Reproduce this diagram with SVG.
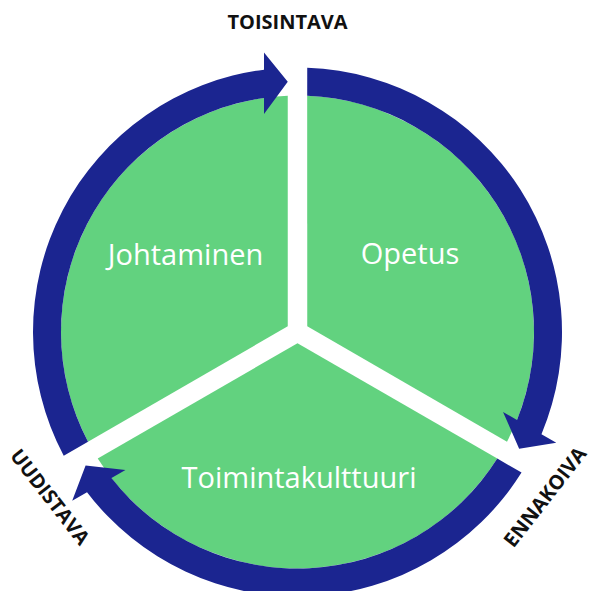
<svg xmlns="http://www.w3.org/2000/svg" width="592" height="591" viewBox="0 0 592 591">
  <style>
    .sector { fill: #62D27F; }
    .arrow { fill: #1B2590; }
    .inner { font-family: "Open Sans", "Noto Sans", sans-serif; font-size: 29px; fill: #FFFFFF; text-anchor: middle; }
    .outer { font-family: "Open Sans", "Noto Sans", sans-serif; font-size: 20px; font-weight: bold; fill: #111111; text-anchor: middle; }
  </style>
  <defs>
    <path id="sectorShape" d="M 287.75 326.37 L 88.01 441.74 A 236.5 236.5 0 0 1 287.75 95.7 Z"/>
    <path id="arrowShape" d="M 63.73 455.73 A 264.5 264.5 0 0 1 264 69.63 L 264 52.5 L 287.75 81.69 L 264 114 L 264 97.88 A 236.5 236.5 0 0 0 88.01 441.74 Z"/>
  </defs>
  <rect x="0" y="0" width="592" height="591" fill="#FFFFFF"/>
  <g id="node-johtaminen">
    <use href="#sectorShape" class="sector"/>
    <text class="inner" x="185.5" y="265">Johtaminen</text>
  </g>
  <g id="node-opetus">
    <use href="#sectorShape" class="sector" transform="rotate(120 297.5 332)"/>
    <text class="inner" x="410" y="264">Opetus</text>
  </g>
  <g id="node-toimintakulttuuri">
    <use href="#sectorShape" class="sector" transform="rotate(240 297.5 332)"/>
    <text class="inner" x="299" y="488">Toimintakulttuuri</text>
  </g>
  <g id="connectors">
    <use href="#arrowShape" class="arrow"/>
    <use href="#arrowShape" class="arrow" transform="rotate(120 297.5 332)"/>
    <use href="#arrowShape" class="arrow" transform="rotate(240 297.5 332)"/>
  </g>
  <g id="labels">
    <text class="outer" x="287.5" y="29">TOISINTAVA</text>
    <text class="outer" transform="translate(545 497) rotate(-52)" x="0" y="7">ENNAKOIVA</text>
    <text class="outer" transform="translate(50 497) rotate(52)" x="0" y="7">UUDISTAVA</text>
  </g>
</svg>
